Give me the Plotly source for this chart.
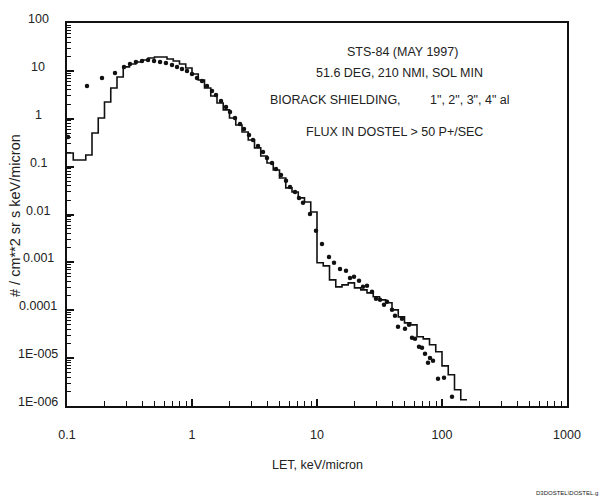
import math
import plotly.graph_objects as go

# Histogram bin edges (LET, keV/micron)
bin_edges = [0.1, 0.1122, 0.1259, 0.1413, 0.1585, 0.1778, 0.1995, 0.2239, 0.2512, 0.2818,
             0.3162, 0.3548, 0.3981, 0.4467, 0.5012, 0.5623, 0.6310, 0.7079, 0.7943, 0.8913,
             1.0, 1.122, 1.259, 1.413, 1.585, 1.778, 1.995, 2.239, 2.512, 2.818,
             3.162, 3.548, 3.981, 4.467, 5.012, 5.623, 6.310, 7.079, 7.943, 8.913,
             10.0, 11.22, 12.59, 14.13, 15.85, 17.78, 19.95, 22.39, 25.12, 28.18,
             31.62, 35.48, 39.81, 44.67, 50.12, 56.23, 63.10, 70.79, 79.43, 89.13,
             100.0, 112.2, 125.9, 141.3, 158.5]

# Histogram flux per bin
hist_flux = [0.193, 0.138, 0.138, 0.175, 0.505, 1.04, 2.24, 4.40, 7.46, 12.1,
             13.9, 15.3, 16.9, 18.6, 19.5, 19.5, 17.7, 16.1, 13.9, 11.5,
             8.61, 6.46, 4.40, 2.99, 2.14, 1.53, 1.04, 0.743, 0.530, 0.361,
             0.246, 0.167, 0.119, 0.0853, 0.058, 0.0359, 0.0296, 0.0222, 0.0183, 0.0113,
             0.00098, 0.000845, 0.000431, 0.000308, 0.000339, 0.000373, 0.000294, 0.000267, 0.000231, 0.000191,
             0.000165, 0.000143, 0.000102, 7.28e-5, 5.46e-5, 4.95e-5, 2.79e-5, 2.53e-5, 1.90e-5, 1.36e-5,
             6.9e-6, 4.48e-6, 2.18e-6, 1.35e-6]

# Measured points
dot_let = [0.102, 0.1445, 0.1905, 0.242, 0.2858, 0.319, 0.356, 0.398, 0.445, 0.497,
           0.555, 0.619, 0.692, 0.759, 0.832, 0.912, 1.0, 1.096, 1.202, 1.318,
           1.445, 1.556, 1.706, 1.871, 2.014, 2.208, 2.421, 2.606, 2.858, 3.076,
           3.373, 3.698, 3.981, 4.365, 4.699, 5.152, 5.649, 6.081, 6.668, 7.178,
           7.727, 8.790, 9.817, 10.96, 12.47, 13.68, 15.28, 17.06, 18.37, 19.77,
           21.68, 23.33, 25.12, 27.54, 29.65, 31.92, 34.36, 36.31, 39.81, 42.07,
           44.46, 47.86, 50.58, 54.45, 57.54, 60.81, 65.46, 69.18, 73.11, 77.27,
           80.17, 84.72, 92.90, 103.8, 120.2]
dot_flux = [0.417, 4.84, 7.11, 9.04, 12.05, 13.9, 15.3, 16.1, 16.9, 16.1,
            15.3, 14.6, 13.3, 12.05, 10.96, 9.95, 8.61, 7.11, 6.15, 4.84,
            3.80, 3.14, 2.35, 1.76, 1.39, 1.04, 0.778, 0.612, 0.459, 0.361,
            0.270, 0.203, 0.152, 0.119, 0.0895, 0.0671, 0.0504, 0.0377, 0.0296, 0.0222,
            0.0175, 0.0103, 0.00455, 0.00243, 0.00130, 0.000977, 0.000731, 0.000665, 0.000474, 0.000498,
            0.000411, 0.000308, 0.000323, 0.000242, 0.000173, 0.000165, 0.000130, 0.000150, 0.000102, 7.64e-5,
            4.50e-5, 6.61e-5, 4.09e-5, 4.95e-5, 2.65e-5, 2.53e-5, 1.72e-5, 1.64e-5, 1.23e-5, 7.98e-6,
            1.01e-5, 8.79e-6, 3.70e-6, 3.88e-6, 1.56e-6]

x_tickvals = [0.1, 1, 10, 100, 1000]
x_ticktext = ["0.1", "1", "10", "100", "1000"]
y_tickvals = [100, 10, 1, 0.1, 0.01, 0.001, 0.0001, 1e-5, 1e-6]
y_ticktext = ["100", "10", "1", "0.1", "0.01", "0.001", "0.0001", "1E-005", "1E-006"]

FONT = "Liberation Sans, Arial, sans-serif"
TXT = "#222222"
INK = "#111111"


def minor_vals(lo_exp, hi_exp):
    return [m * 10.0 ** e for e in range(lo_exp, hi_exp) for m in range(2, 10)]


fig = go.Figure()
fig.add_trace(go.Scatter(
    x=bin_edges, y=hist_flux + [hist_flux[-1]], mode="lines", line_shape="hv",
    line=dict(color=INK, width=1.6), showlegend=False, hoverinfo="skip"))
fig.add_trace(go.Scatter(
    x=dot_let, y=dot_flux, mode="markers",
    marker=dict(color=INK, size=4.5, symbol="circle"), showlegend=False))

fig.update_xaxes(type="log", range=[-1, 3], tickmode="array", tickvals=x_tickvals,
                 ticktext=x_ticktext, ticks="inside", ticklen=7, tickwidth=1.6, tickcolor=INK,
                 showline=True, linecolor=INK, linewidth=1.5, mirror=True,
                 showgrid=False, zeroline=False,
                 tickfont=dict(family=FONT, size=12.5, color=TXT), ticklabelstandoff=16,
                 minor=dict(ticks="inside", ticklen=5, tickwidth=1.4, tickcolor=INK,
                            tickmode="array", tickvals=minor_vals(-1, 3), showgrid=False))
fig.update_yaxes(type="log", range=[-6, 2], tickmode="array", tickvals=y_tickvals,
                 showticklabels=False, ticks="inside", ticklen=7, tickwidth=1.6,
                 tickcolor=INK,
                 showline=True, linecolor=INK, linewidth=1.5, mirror=True,
                 showgrid=False, zeroline=False,
                 minor=dict(ticks="inside", ticklen=4, tickwidth=1.3, tickcolor=INK,
                            dtick="D1", showgrid=False))

annotations = []
for v, t in zip(y_tickvals, y_ticktext):
    annotations.append(dict(x=-0.058, xref="paper", y=math.log10(v), yref="y",
                            text=t, showarrow=False, xanchor="center", yanchor="middle",
                            yshift=4, font=dict(family=FONT, size=12.5, color=TXT)))

annotations.append(dict(x=(15 - 67) / 500.0, xref="paper", y=(406 - 216) / 383.0, yref="paper",
                        text="# / cm**2 sr s keV/micron", textangle=-90, showarrow=False,
                        xanchor="center", yanchor="middle",
                        font=dict(family=FONT, size=14.5, color=TXT)))


def px_to_paper(px, py):
    return (px - 67) / 500.0, (406 - py) / 383.0


def add_text(px, py, text, size=12.5, anchor="center"):
    x, y = px_to_paper(px, py)
    annotations.append(dict(x=x, y=y, xref="paper", yref="paper", text=text,
                            showarrow=False, xanchor=anchor, yanchor="middle",
                            font=dict(family=FONT, size=size, color=TXT)))


add_text(317, 465, "LET, keV/micron", size=12.5)
add_text(402, 52, "STS-84 (MAY 1997)")
add_text(399, 73, "51.6 DEG, 210 NMI, SOL MIN")
add_text(268, 100, "BIORACK SHIELDING,", anchor="left")
add_text(428, 100, "1\", 2\", 3\", 4\" al", anchor="left")
add_text(394, 132, "FLUX IN DOSTEL &gt; 50 P+/SEC")
add_text(600, 493, "D3DOSTEL\\DOSTEL.g", size=6, anchor="right")

fig.update_layout(
    width=602, height=500,
    margin=dict(l=67, r=35, t=23, b=94),
    paper_bgcolor="white", plot_bgcolor="white",
    annotations=annotations,
    font=dict(family=FONT, color=TXT),
)

fig.write_html("out.html", config={"displayModeBar": False},
               post_script="document.body.style.margin='0px';")
